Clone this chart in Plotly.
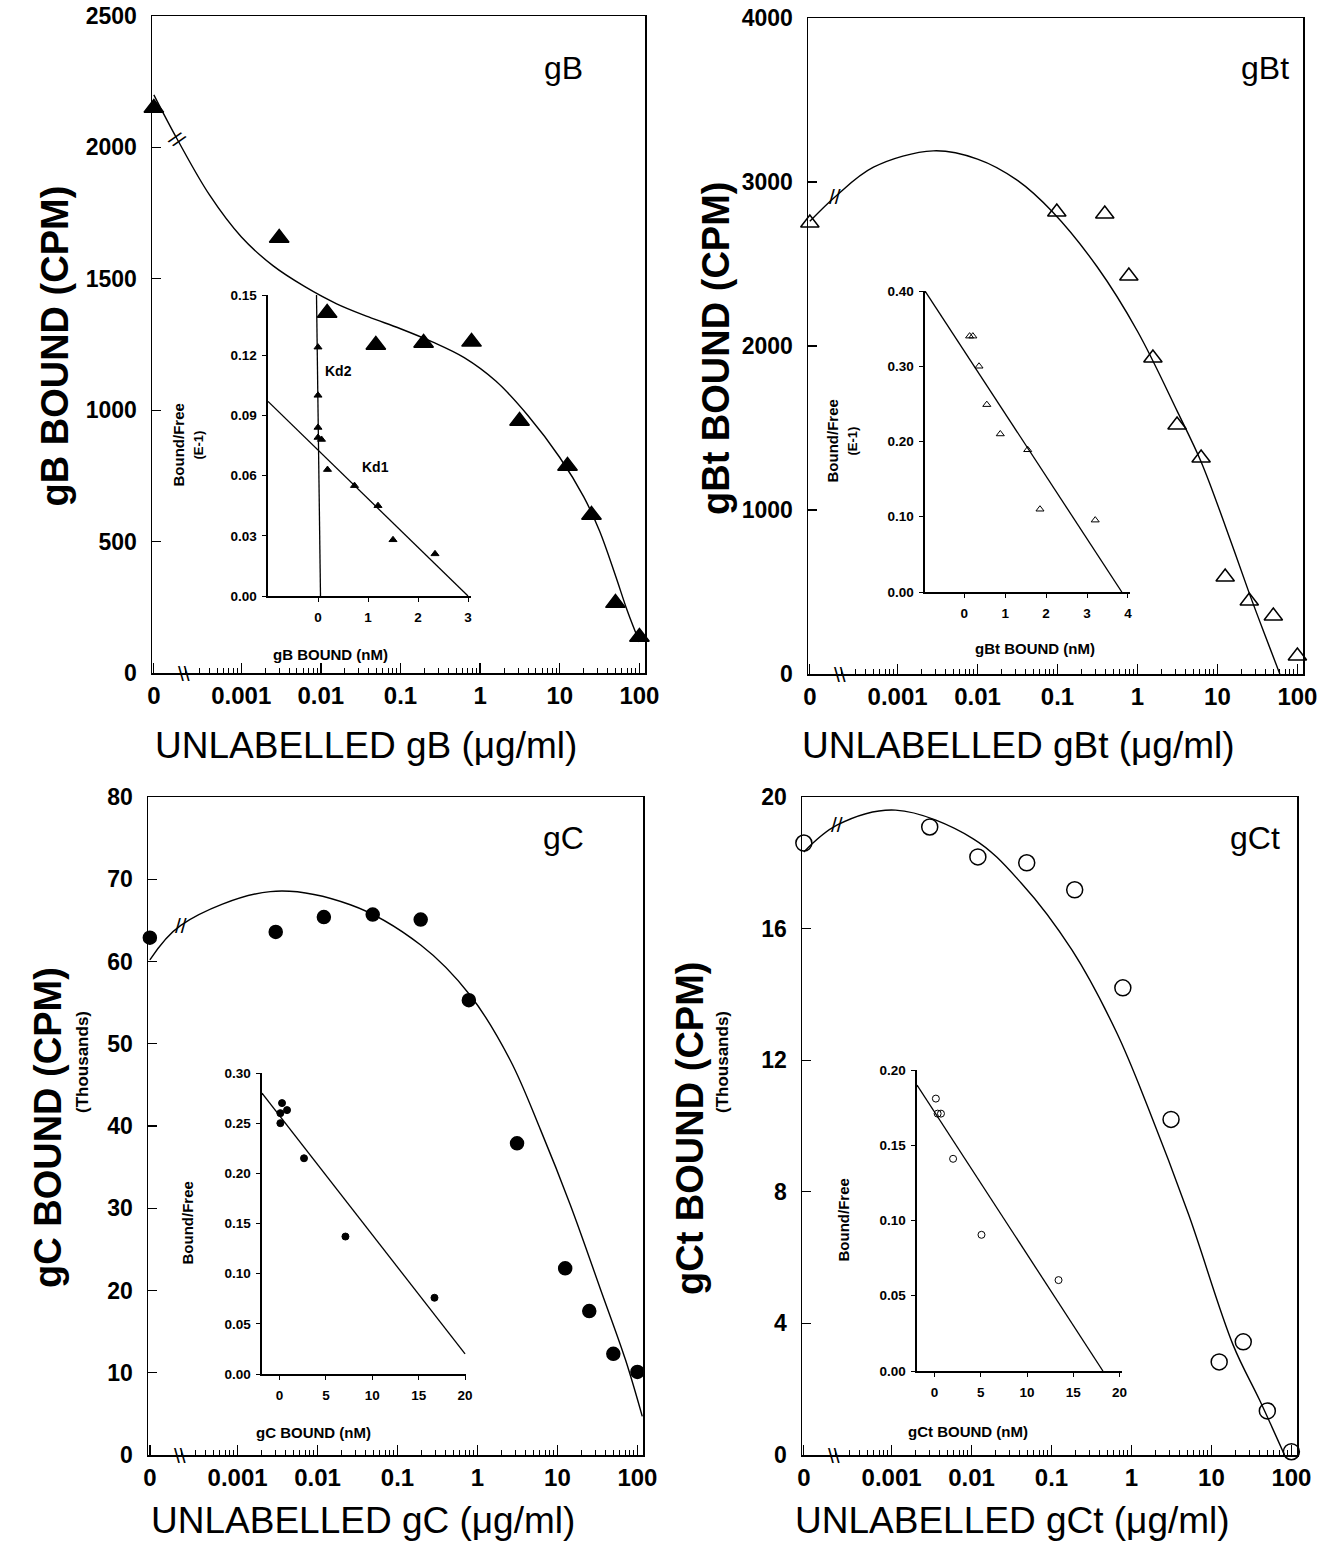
import math
import plotly.graph_objects as go

W, H = 1328, 1543
ZERO_POS = 8e-5          # where the zero-concentration control sits on the broken log axis
FONT = "Liberation Sans, Arial, Helvetica, sans-serif"

# ---------------- main panels: data (concentration in ug/ml, bound CPM) ----------------
gB_conc = [0, 0.003, 0.012, 0.049, 0.195, 0.78, 3.125, 12.5, 25, 50, 100]
gB_bound = [2150, 1655, 1370, 1248, 1256, 1260, 959, 788, 601, 266, 137]
gB_fit_conc = [0, 1.58e-4, 3.98e-4, 1e-3, 2.5e-3, 6.3e-3, 0.0158, 0.0398, 0.1, 0.251, 0.631,
               1.585, 3.98, 10, 20, 31.6, 50.1, 70.8, 100]
gB_fit_bound = [2200, 2030, 1820, 1660, 1550, 1470, 1405, 1355, 1310, 1260, 1200,
                1110, 980, 820, 670, 540, 370, 235, 118]

gBt_conc = [0, 0.098, 0.39, 0.78, 1.56, 3.125, 6.25, 12.5, 25, 50, 100]
gBt_bound = [2750, 2817, 2805, 2427, 1927, 1518, 1317, 591, 445, 354, 110]
gBt_fit_conc = [0, 1.66e-4, 5.0e-4, 2.8e-3, 0.01, 0.0316, 0.087, 0.316, 1, 3.16, 6.3, 12.6, 25.1, 39.8, 60.3]
gBt_fit_bound = [2760, 2910, 3090, 3190, 3140, 3010, 2817, 2480, 2090, 1600, 1290, 900, 490, 230, 0]

gC_conc = [0, 0.003, 0.012, 0.049, 0.195, 0.78, 3.125, 12.5, 25, 50, 100]
gC_bound = [62.9, 63.6, 65.4, 65.7, 65.1, 55.3, 37.9, 22.7, 17.5, 12.3, 10.1]
gC_fit_conc = [0, 1.95e-4, 2.57e-3, 0.0257, 0.195, 0.81, 2.57, 6.17, 14.5, 34.7, 70.8, 115]
gC_fit_bound = [60.2, 64.4, 68.5, 66.9, 62.0, 55.9, 48.0, 39.5, 30.4, 20.1, 11.6, 4.7]

gCt_conc = [0, 0.003, 0.012, 0.049, 0.195, 0.78, 3.125, 12.5, 25, 50, 100]
gCt_bound = [18.6, 19.09, 18.18, 18.0, 17.18, 14.2, 10.2, 2.83, 3.44, 1.34, 0.1]
gCt_fit_conc = [0, 2.1e-4, 1.12e-3, 0.0105, 0.042, 0.18, 0.65, 1.62, 5.2, 18.7, 40, 82]
gCt_fit_bound = [18.33, 19.15, 19.6, 18.73, 17.38, 15.35, 12.85, 10.55, 7.3, 3.34, 1.67, 0]

x_tick_vals = [ZERO_POS, 0.001, 0.01, 0.1, 1, 10, 100]
x_tick_text = ["0", "0.001", "0.01", "0.1", "1", "10", "100"]
x_minor_vals = [k * 10.0 ** n for n in range(-4, 2) for k in range(2, 10)]

gB_yticks = [0, 500, 1000, 1500, 2000, 2500]
gBt_yticks = [0, 1000, 2000, 3000, 4000]
gC_yticks = [0, 10, 20, 30, 40, 50, 60, 70, 80]
gCt_yticks = [0, 4, 8, 12, 16, 20]

# ---------------- Scatchard insets ----------------
ins_gB_x = [0.0, 0.0, 0.0, 0.0, 0.07, 0.19, 0.73, 1.2, 1.5, 2.34]
ins_gB_y = [0.124, 0.100, 0.084, 0.079, 0.078, 0.063, 0.055, 0.045, 0.028, 0.021]
ins_gB_kd1_x = [-1.0, 3.0]
ins_gB_kd1_y = [0.097, 0.0]
ins_gB_kd2_x = [-0.03, 0.05]
ins_gB_kd2_y = [0.15, 0.0]

ins_gBt_x = [0.13, 0.21, 0.36, 0.55, 0.88, 1.55, 1.85, 3.2]
ins_gBt_y = [0.34, 0.34, 0.30, 0.249, 0.21, 0.189, 0.110, 0.0955]
ins_gBt_fit_x = [-0.96, 3.85]
ins_gBt_fit_y = [0.40, 0.0]

ins_gC_x = [0.08, 0.26, 0.08, 0.8, 2.63, 7.1, 16.7]
ins_gC_y = [0.26, 0.27, 0.25, 0.263, 0.215, 0.137, 0.076]
ins_gC_fit_x = [-1.9, 20.0]
ins_gC_fit_y = [0.28, 0.02]

ins_gCt_x = [0.14, 0.33, 0.69, 2.0, 5.07, 13.4]
ins_gCt_y = [0.181, 0.171, 0.171, 0.141, 0.0905, 0.0604]
ins_gCt_fit_x = [-1.9, 18.2]
ins_gCt_fit_y = [0.19, 0.0]


def xpos(vals):
    return [v if v > 0 else ZERO_POS for v in vals]


def fx(p):
    return p / W


def fy(p):
    return 1 - p / H


def ann(text, x, y, size, bold=False, angle=0, xref="paper", yref="paper", xanchor="center"):
    return dict(text=text, x=x, y=y, xref=xref, yref=yref, xanchor=xanchor, yanchor="middle",
                textangle=angle, showarrow=False,
                font=dict(family=FONT, size=size, color="black", weight="bold" if bold else "normal"))


fig = go.Figure()
annotations = []

panels = [
    dict(label="gB", conc=gB_conc, bound=gB_bound, fc=gB_fit_conc, fb=gB_fit_bound,
         sym="triangle-up", size=17, box=(152, 645, 16, 673), yr=[0, 2500], yt=gB_yticks,
         lab=(563, 68), ytitle="gB BOUND (CPM)", ytx=55, sub=None,
         xtitle="UNLABELLED gB (μg/ml)", xtc=(366, 745), brk_ang=40),
    dict(label="gBt", conc=gBt_conc, bound=gBt_bound, fc=gBt_fit_conc, fb=gBt_fit_bound,
         sym="triangle-up-open", size=16, box=(808, 1303, 18, 674), yr=[0, 4000], yt=gBt_yticks,
         lab=(1265, 68), ytitle="gBt BOUND (CPM)", ytx=716, sub=None,
         xtitle="UNLABELLED gBt (μg/ml)", xtc=(1018, 745), brk_ang=0),
    dict(label="gC", conc=gC_conc, bound=gC_bound, fc=gC_fit_conc, fb=gC_fit_bound,
         sym="circle", size=13, box=(148, 643, 797, 1455), yr=[0, 80], yt=gC_yticks,
         lab=(563, 838), ytitle="gC BOUND (CPM)", ytx=48, sub=82,
         xtitle="UNLABELLED gC (μg/ml)", xtc=(363, 1520), brk_ang=0),
    dict(label="gCt", conc=gCt_conc, bound=gCt_bound, fc=gCt_fit_conc, fb=gCt_fit_bound,
         sym="circle-open", size=16, box=(802, 1297, 797, 1455), yr=[0, 20], yt=gCt_yticks,
         lab=(1255, 838), ytitle="gCt BOUND (CPM)", ytx=690, sub=722,
         xtitle="UNLABELLED gCt (μg/ml)", xtc=(1012, 1520), brk_ang=0),
]

layout_axes = {}
for i, p in enumerate(panels, start=1):
    xa = "x" if i == 1 else f"x{i}"
    ya = "y" if i == 1 else f"y{i}"
    x0, x1, y0, y1 = p["box"]
    fig.add_trace(go.Scatter(x=xpos(p["fc"]), y=p["fb"], mode="lines",
                             line=dict(color="black", width=1.4, shape="spline", smoothing=1.0),
                             xaxis=xa, yaxis=ya, showlegend=False, hoverinfo="skip"))
    fig.add_trace(go.Scatter(x=xpos(p["conc"]), y=p["bound"], mode="markers",
                             marker=dict(symbol=p["sym"], size=p["size"], color="black",
                                         line=dict(color="black", width=1.5)),
                             xaxis=xa, yaxis=ya, showlegend=False, cliponaxis=False))
    axis_common = dict(showline=True, linecolor="black", linewidth=1.5, mirror=True,
                       showgrid=False, zeroline=False, ticks="inside", tickcolor="black",
                       tickwidth=1.3, automargin=False)
    layout_axes["xaxis" if i == 1 else f"xaxis{i}"] = dict(
        axis_common, type="log", range=[-4.12, 2.07], domain=[fx(x0), fx(x1)],
        anchor=ya, tickmode="array", tickvals=x_tick_vals, ticktext=x_tick_text, ticklen=10,
        ticklabelstandoff=1,
        minor=dict(tickvals=x_minor_vals, ticks="inside", ticklen=5, tickcolor="black", tickwidth=1),
        tickfont=dict(family=FONT, size=24, color="black", weight="bold"))
    layout_axes["yaxis" if i == 1 else f"yaxis{i}"] = dict(
        axis_common, range=p["yr"], domain=[fy(y1), fy(y0)], anchor=xa,
        tickmode="array", tickvals=p["yt"], ticklen=9, ticklabelstandoff=9,
        tickfont=dict(family=FONT, size=23, color="black", weight="bold"))
    # panel label
    annotations.append(ann(p["label"], fx(p["lab"][0]), fy(p["lab"][1]), 32))
    # axis titles
    annotations.append(ann(p["xtitle"], fx(p["xtc"][0]), fy(p["xtc"][1]), 37))
    ymid = (y0 + y1) / 2 + 2
    annotations.append(ann(p["ytitle"], fx(p["ytx"]), fy(ymid), 38, bold=True, angle=-90))
    if p["sub"]:
        annotations.append(ann("(Thousands)", fx(p["sub"]), fy(ymid - 66), 17, bold=True, angle=-90))
    # axis-break marks: on the fitted curve and on the x axis
    annotations.append(ann("//", math.log10(p["fc"][1]), p["fb"][1], 21, angle=p["brk_ang"], xref=xa, yref=ya))
    annotations.append(ann("\\\\", -3.72, p["yr"][0], 21, xref=xa, yref=ya))

# ---------------- insets ----------------
insets = [
    dict(x=ins_gB_x, y=ins_gB_y, sym="triangle-up", lines=[(ins_gB_kd1_x, ins_gB_kd1_y), (ins_gB_kd2_x, ins_gB_kd2_y)],
         box=(268, 471, 295, 596), xr=[-1.0, 3.06], yr=[0, 0.15], xt=[0, 1, 2, 3],
         yt=[0.0, 0.03, 0.06, 0.09, 0.12, 0.15],
         ylab=("Bound/Free", "(E-1)"), ylx=(178, 198), xlab="gB BOUND (nM)", xlc=(330, 654)),
    dict(x=ins_gBt_x, y=ins_gBt_y, sym="triangle-up-open", lines=[(ins_gBt_fit_x, ins_gBt_fit_y)],
         box=(925, 1130, 291, 592), xr=[-0.96, 4.05], yr=[0, 0.40], xt=[0, 1, 2, 3, 4],
         yt=[0.0, 0.1, 0.2, 0.3, 0.4],
         ylab=("Bound/Free", "(E-1)"), ylx=(832, 852), xlab="gBt BOUND (nM)", xlc=(1035, 648)),
    dict(x=ins_gC_x, y=ins_gC_y, sym="circle", lines=[(ins_gC_fit_x, ins_gC_fit_y)],
         box=(262, 466, 1073, 1374), xr=[-1.9, 20.1], yr=[0, 0.30], xt=[0, 5, 10, 15, 20],
         yt=[0.0, 0.05, 0.10, 0.15, 0.20, 0.25, 0.30],
         ylab=("Bound/Free", None), ylx=(187, None), xlab="gC BOUND (nM)", xlc=(313, 1432)),
    dict(x=ins_gCt_x, y=ins_gCt_y, sym="circle-open", lines=[(ins_gCt_fit_x, ins_gCt_fit_y)],
         box=(917, 1122, 1070, 1371), xr=[-1.9, 20.26], yr=[0, 0.20], xt=[0, 5, 10, 15, 20],
         yt=[0.0, 0.05, 0.10, 0.15, 0.20],
         ylab=("Bound/Free", None), ylx=(843, None), xlab="gCt BOUND (nM)", xlc=(968, 1431)),
]

for j, q in enumerate(insets, start=5):
    xa, ya = f"x{j}", f"y{j}"
    x0, x1, y0, y1 = q["box"]
    for lx, ly in q["lines"]:
        fig.add_trace(go.Scatter(x=lx, y=ly, mode="lines", line=dict(color="black", width=1.3),
                                 xaxis=xa, yaxis=ya, showlegend=False, hoverinfo="skip"))
    fig.add_trace(go.Scatter(x=q["x"], y=q["y"], mode="markers",
                             marker=dict(symbol=q["sym"], size=7, color="black", line=dict(color="black", width=1)),
                             xaxis=xa, yaxis=ya, showlegend=False, cliponaxis=False))
    ic = dict(showline=True, linecolor="black", linewidth=1.6, mirror=False, showgrid=False,
              zeroline=False, ticks="outside", ticklen=4, tickcolor="black", tickwidth=1,
              automargin=False, tickfont=dict(family=FONT, size=13.5, color="black", weight="bold"))
    layout_axes[f"xaxis{j}"] = dict(ic, range=q["xr"], domain=[fx(x0), fx(x1)], anchor=ya,
                                    tickmode="array", tickvals=q["xt"], ticklabelstandoff=4)
    layout_axes[f"yaxis{j}"] = dict(ic, range=q["yr"], domain=[fy(y1), fy(y0)], anchor=xa,
                                    tickmode="array", tickvals=q["yt"], tickformat=".2f",
                                    ticklabelstandoff=3)
    ymid = (y0 + y1) / 2
    annotations.append(ann(q["ylab"][0], fx(q["ylx"][0]), fy(ymid), 15, bold=True, angle=-90))
    if q["ylab"][1]:
        annotations.append(ann(q["ylab"][1], fx(q["ylx"][1]), fy(ymid), 13, bold=True, angle=-90))
    annotations.append(ann(q["xlab"], fx(q["xlc"][0]), fy(q["xlc"][1]), 15, bold=True))

# Kd labels in the gB inset
annotations.append(ann("Kd2", 0.1, 0.112, 14, bold=True, xref="x5", yref="y5", xanchor="left"))
annotations.append(ann("Kd1", 0.84, 0.0645, 14, bold=True, xref="x5", yref="y5", xanchor="left"))

fig.update_layout(width=W, height=H, margin=dict(l=0, r=0, t=0, b=0, autoexpand=False),
                  template="none", paper_bgcolor="white", plot_bgcolor="rgba(0,0,0,0)",
                  showlegend=False, annotations=annotations, **layout_axes)

fig.write_html("out.html", config={"displayModeBar": False, "staticPlot": True},
               post_script="document.body.style.margin='0px';document.body.style.overflow='hidden';")
